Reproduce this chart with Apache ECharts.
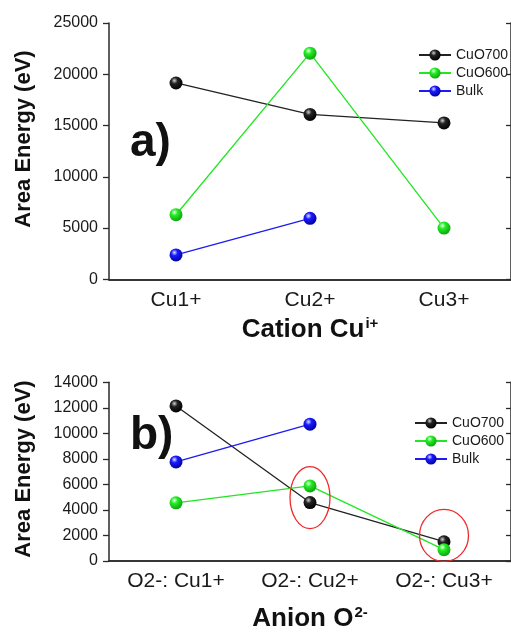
<!DOCTYPE html>
<html>
<head>
<meta charset="utf-8">
<script src="https://cdn.jsdelivr.net/npm/echarts@6/dist/echarts.min.js"></script>
<style>
  html, body { margin: 0; padding: 0; background: #fff; }
  #chart { width: 511px; height: 633px; }
</style>
</head>
<body>
<div id="chart"></div>
<script>
// categories
const catsCation = ['Cu1+', 'Cu2+', 'Cu3+'];
const catsAnion = ['O2-: Cu1+', 'O2-: Cu2+', 'O2-: Cu3+'];

// a) cation values (eV)
const cation700 = [19150, 16080, 15250];
const cation600 = [6300, 22060, 5000];
const cationBulk = [2380, 5950, null];

// b) anion values (eV)
const anion700 = [12150, 4580, 1510];
const anion600 = [4560, 5880, 890];
const anionBulk = [7760, 10720, null];

// circled points in b)
const circled = [[1, 4970], [2, 2000]];

const FONT = 'Arial, "Liberation Sans", sans-serif';
const AXIS_COLOR = '#2a2a2a';

// shiny ball look for the markers
function ball(base, dark, hi) {
    return {
        type: 'radial', x: 0.38, y: 0.32, r: 0.7,
        colorStops: [
            { offset: 0, color: hi },
            { offset: 0.35, color: base },
            { offset: 1, color: dark }
        ]
    };
}
const styles = {
    CuO700: { line: '#222222', ball: ball('#222222', '#000000', '#cfcfcf') },
    CuO600: { line: '#22e622', ball: ball('#22ee22', '#10a010', '#e8ffe8') },
    Bulk: { line: '#1c1cf0', ball: ball('#1a1aff', '#0000a0', '#e0e0ff') }
};

function mkSeries(name, data, idx) {
    return {
        type: 'line', name: name, data: data,
        xAxisIndex: idx, yAxisIndex: idx,
        symbol: 'circle', symbolSize: 13,
        lineStyle: { color: styles[name].line, width: 1.3 },
        itemStyle: { color: styles[name].ball, borderWidth: 0 },
        emphasis: { disabled: true }
    };
}

function mainX(gridIndex, cats) {
    return {
        type: 'category', gridIndex: gridIndex, data: cats, position: 'bottom',
        axisLine: { lineStyle: { color: AXIS_COLOR, width: 1.5 } },
        axisTick: { alignWithLabel: true, length: 6, lineStyle: { color: AXIS_COLOR, width: 1.3 } },
        axisLabel: { fontFamily: FONT, fontSize: 21, color: '#1a1a1a', margin: 10 },
        splitLine: { show: false }
    };
}
function mirrorX(gridIndex, cats) {
    return {
        type: 'category', gridIndex: gridIndex, data: cats, position: 'top',
        axisLine: { lineStyle: { color: AXIS_COLOR, width: 1.5 } },
        axisTick: { alignWithLabel: true, inside: true, length: 5, lineStyle: { color: AXIS_COLOR, width: 1.3 } },
        axisLabel: { show: false },
        splitLine: { show: false }
    };
}
function mainY(gridIndex, max, interval) {
    return {
        type: 'value', gridIndex: gridIndex, min: 0, max: max, interval: interval, position: 'left',
        axisLine: { show: true, lineStyle: { color: AXIS_COLOR, width: 1.5 } },
        axisTick: { show: true, length: 6, lineStyle: { color: AXIS_COLOR, width: 1.3 } },
        axisLabel: {
            fontFamily: FONT, fontSize: 16, color: '#1a1a1a', margin: 11,
            formatter: function (v) { return String(v); }
        },
        splitLine: { show: false }
    };
}
function mirrorY(gridIndex, max, interval) {
    return {
        type: 'value', gridIndex: gridIndex, min: 0, max: max, interval: interval, position: 'right',
        axisLine: { show: true, lineStyle: { color: AXIS_COLOR, width: 1.5 } },
        axisTick: { show: true, inside: true, length: 5, lineStyle: { color: AXIS_COLOR, width: 1.3 } },
        axisLabel: { show: false },
        splitLine: { show: false }
    };
}

const titleRich = {
    main: { fontFamily: FONT, fontSize: 26, fontWeight: 'bold', color: '#111', lineHeight: 28 },
    sup: { fontFamily: FONT, fontSize: 15, fontWeight: 'bold', color: '#111', lineHeight: 28, verticalAlign: 'top', padding: [0, 0, 0, 1] }
};

function legendAt(left, top) {
    return {
        orient: 'vertical', left: left, top: top,
        itemWidth: 32, itemHeight: 14, itemGap: 4,
        textStyle: { fontFamily: FONT, fontSize: 14, color: '#1a1a1a' },
        data: ['CuO700', 'CuO600', 'Bulk'],
        selectedMode: false
    };
}

const chart = echarts.init(document.getElementById('chart'), null, { renderer: 'canvas' });

const xCation = mainX(0, catsCation);
xCation.name = '{main|Cation Cu}{sup|i+}';
xCation.nameLocation = 'middle';
xCation.nameGap = 37;
xCation.nameTextStyle = { rich: titleRich };

const xAnion = mainX(1, catsAnion);
xAnion.name = '{main|Anion O}{sup|2-}';
xAnion.nameLocation = 'middle';
xAnion.nameGap = 44;
xAnion.nameTextStyle = { rich: titleRich };

chart.setOption({
    animation: false,
    backgroundColor: '#ffffff',
    grid: [
        { left: 109, top: 23, width: 406.5, height: 256.3 },
        { left: 109, top: 382.3, width: 406.5, height: 179.4 }
    ],
    legend: [legendAt(413, 43), legendAt(409, 411)],
    xAxis: [xCation, mirrorX(0, catsCation), xAnion, mirrorX(1, catsAnion)],
    yAxis: [mainY(0, 25000, 5000), mirrorY(0, 25000, 5000), mainY(1, 14000, 2000), mirrorY(1, 14000, 2000)],
    series: [
        mkSeries('CuO700', cation700, 0),
        mkSeries('CuO600', cation600, 0),
        mkSeries('Bulk', cationBulk, 0),
        mkSeries('CuO700', anion700, 2),
        mkSeries('CuO600', anion600, 2),
        mkSeries('Bulk', anionBulk, 2)
    ]
});

// annotations: axis titles, panel letters, red circles
const ellipseSize = [[20, 31], [24.5, 26]];
const graphics = [
    {
        type: 'text', x: 24, y: 139, rotation: Math.PI / 2,
        style: { text: 'Area Energy (eV)', font: 'bold 22px ' + FONT, fill: '#111', align: 'center', verticalAlign: 'middle' }
    },
    {
        type: 'text', x: 24, y: 469, rotation: Math.PI / 2,
        style: { text: 'Area Energy (eV)', font: 'bold 22px ' + FONT, fill: '#111', align: 'center', verticalAlign: 'middle' }
    },
    {
        type: 'text', x: 130, y: 143,
        style: { text: 'a)', font: 'bold 46px ' + FONT, fill: '#111', align: 'left', verticalAlign: 'middle' }
    },
    {
        type: 'text', x: 130, y: 436,
        style: { text: 'b)', font: 'bold 46px ' + FONT, fill: '#111', align: 'left', verticalAlign: 'middle' }
    }
];
circled.forEach(function (pt, i) {
    const p = chart.convertToPixel({ seriesIndex: 3 }, pt);
    graphics.push({
        type: 'ellipse', z: 100,
        shape: { cx: p[0], cy: p[1], rx: ellipseSize[i][0], ry: ellipseSize[i][1] },
        style: { fill: 'none', stroke: '#ee2a2a', lineWidth: 1.3 }
    });
});
chart.setOption({ graphic: graphics });
</script>
</body>
</html>
